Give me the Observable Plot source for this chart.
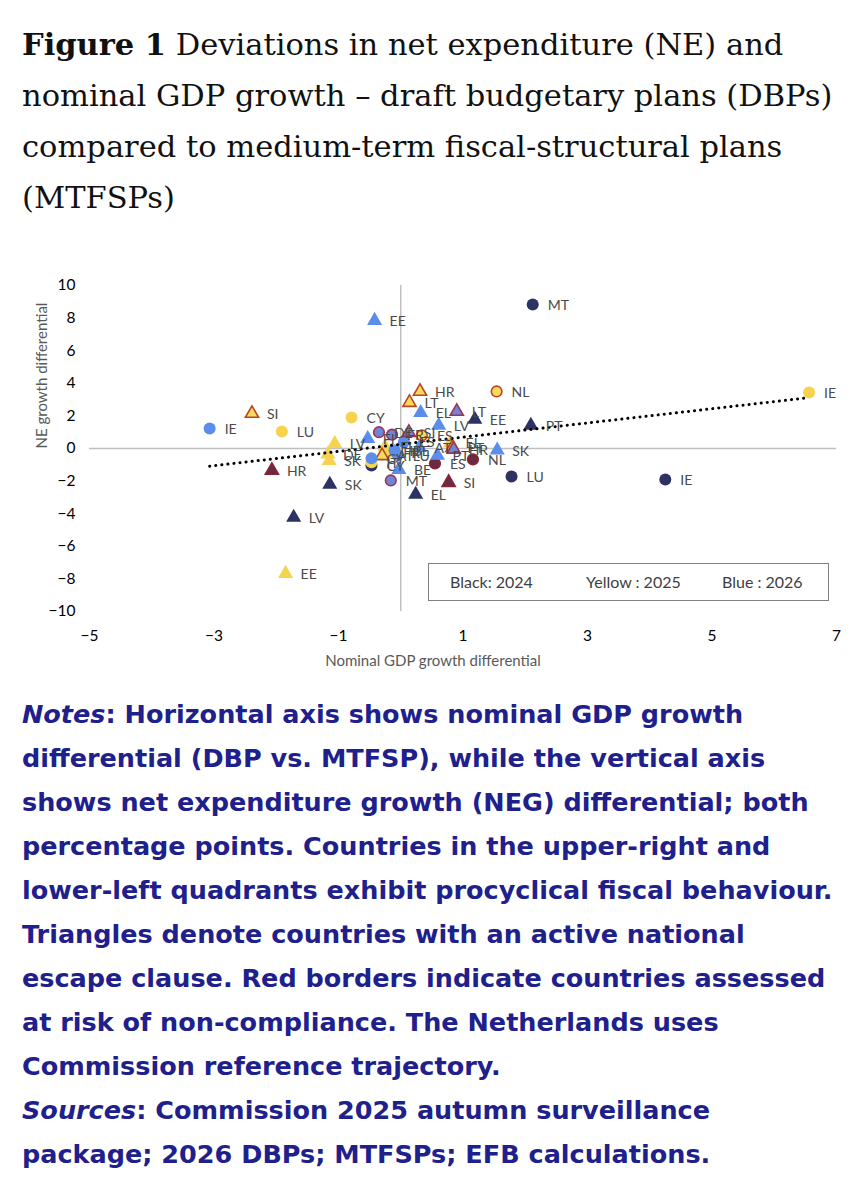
<!DOCTYPE html>
<html><head><meta charset="utf-8">
<script src="https://cdn.jsdelivr.net/npm/d3@7"></script>
<script src="https://cdn.jsdelivr.net/npm/@observablehq/plot@0.6"></script>
<style>
body{margin:0;background:#fff;width:855px;height:1200px;position:relative;overflow:hidden}
#title{position:absolute;left:22px;top:19px;font-family:"DejaVu Serif";font-size:30.5px;line-height:51px;color:#111;white-space:nowrap}
#chart{position:absolute;left:0;top:250px}
#legend{position:absolute;left:428px;top:563px;width:401px;height:38px;border:1.5px solid #808080;box-sizing:border-box;font-family:Lato;font-size:16px;color:#404040;background:#fff}
#legend span{position:absolute;top:8px}
#notes{position:absolute;left:22px;top:692px;font-family:"DejaVu Sans";font-weight:700;font-size:25.5px;line-height:44px;color:#20208c;white-space:nowrap}
</style></head>
<body>
<div id="title"><b>Figure 1</b> Deviations in net expenditure (NE) and<br>nominal GDP growth – draft budgetary plans (DBPs)<br>compared to medium-term fiscal-structural plans<br>(MTFSPs)</div>
<div id="chart"></div>
<div id="legend"><span style="left:21px">Black: 2024</span><span style="left:157px">Yellow : 2025</span><span style="left:293px">Blue : 2026</span></div>
<div id="notes"><i>Notes</i>: Horizontal axis shows nominal GDP growth<br>differential (DBP vs. MTFSP), while the vertical axis<br>shows net expenditure growth (NEG) differential; both<br>percentage points. Countries in the upper-right and<br>lower-left quadrants exhibit procyclical fiscal behaviour.<br>Triangles denote countries with an active national<br>escape clause. Red borders indicate countries assessed<br>at risk of non-compliance. The Netherlands uses<br>Commission reference trajectory.<br><i>Sources</i>: Commission 2025 autumn surveillance<br>package; 2026 DBPs; MTFSPs; EFB calculations.</div>
<script>
// ---- data (percentage points) ----
const years = ["2024", "2025", "2026"];
const seriesColors = ["#2e3263", "#f5d34f", "#5a8eea"];
const riskFill = ["#6b2a44", "#f7d860", "#6f86d8"];
const riskStroke = ["#8a2433", "#b9471f", "#9a3555"];

const labels2024 = ["MT","PT","EE","LU","IE","SK","LV","HR","EL","SI","ES","NL","CY"];
const gdp2024    = [2.12, 2.09, 1.19, 1.78, 4.25, -1.14, -1.72, -2.07, 0.24, 0.77, 0.55, 1.16, -0.47];
const ne2024     = [8.83, 1.41, 1.78, -1.72, -1.90, -2.20, -4.23, -1.35, -2.82, -2.09, -0.92, -0.67, -1.04];
const escape2024 = [0, 1, 1, 0, 0, 1, 1, 1, 1, 1, 0, 0, 0];
const risk2024   = [0, 0, 0, 0, 0, 0, 0, 1, 0, 1, 1, 1, 0];

const labels2025 = ["IE","NL","HR","LT","SI","CY","LU","EE","LV","DE","SK","ES","EL","AT","IT","FR","PT","BE","FI"];
const gdp2025    = [6.56, 1.54, 0.31, 0.14, -2.39, -0.79, -1.91, -1.85, -1.06, -1.17, -1.15, 0.34, 0.80, -0.30, -0.47, -0.20, 0.83, -0.05, -0.25];
const ne2025     = [3.44, 3.50, 3.50, 2.82, 2.15, 1.90, 1.04, -7.67, 0.30, -0.35, -0.75, 0.80, 0.35, -0.45, -0.85, -0.25, 0.06, -0.15, 0.10];
const escape2025 = [0, 0, 1, 1, 1, 0, 0, 1, 1, 1, 1, 0, 1, 1, 0, 0, 1, 1, 1];
const risk2025   = [0, 1, 1, 1, 1, 0, 0, 0, 0, 0, 0, 1, 0, 1, 0, 0, 1, 0, 0];

const labels2026 = ["EE","IE","EL","LT","LV","SK","PT","HR","BE","MT","FI","CY","DE","FR","IT","SI","AT","LU","ES"];
const gdp2026    = [-0.42, -3.07, 0.32, 0.90, 0.61, 1.55, 0.59, 0.85, -0.03, -0.16, -0.53, -0.47, -0.35, -0.14, -0.10, 0.13, 0.30, -0.05, 0.05];
const ne2026     = [7.85, 1.23, 2.20, 2.27, 1.41, -0.10, -0.43, -0.05, -1.29, -1.96, 0.60, -0.60, 1.00, 0.85, -0.10, 0.98, 0.06, -0.40, 0.40];
const escape2026 = [1, 0, 1, 1, 1, 1, 1, 1, 1, 0, 1, 0, 0, 0, 0, 1, 1, 0, 0];
const risk2026   = [0, 0, 0, 1, 0, 0, 0, 1, 0, 1, 0, 0, 1, 1, 0, 1, 0, 0, 0];

const xTicks = [-5, -3, -1, 1, 3, 5, 7];
const yTicks = [-10, -8, -6, -4, -2, 0, 2, 4, 6, 8, 10];

// ---- build table ----
function build(year, labels, xs, ys, esc, risk) {
  return labels.map((l, i) => ({year, label: l, x: xs[i], y: ys[i], tri: !!esc[i], risk: !!risk[i]}));
}
const series = [
  build("2024", labels2024, gdp2024, ne2024, escape2024, risk2024),
  build("2025", labels2025, gdp2025, ne2025, escape2025, risk2025),
  build("2026", labels2026, gdp2026, ne2026, escape2026, risk2026)
];
const all = series.flat();

const dotMarks = [];
series.forEach((s, i) => {
  const col = seriesColors[i];
  const plain = s.filter(d => !d.risk), risky = s.filter(d => d.risk);
  dotMarks.push(Plot.dot(plain.filter(d => !d.tri), {x: "x", y: "y", r: 6, symbol: "circle", fill: col}));
  dotMarks.push(Plot.dot(plain.filter(d => d.tri), {x: "x", y: "y", r: 5.6, symbol: "triangle", fill: col}));
  dotMarks.push(Plot.dot(risky.filter(d => !d.tri), {x: "x", y: "y", r: 5.3, symbol: "circle",
    fill: riskFill[i], stroke: riskStroke[i], strokeWidth: 1.6}));
  dotMarks.push(Plot.dot(risky.filter(d => d.tri), {x: "x", y: "y", r: 4.9, symbol: "triangle",
    fill: riskFill[i], stroke: riskStroke[i], strokeWidth: 1.6}));
});

const chart = Plot.plot({
  width: 855,
  height: 431,
  marginLeft: 89,
  marginRight: 19,
  marginTop: 35,
  marginBottom: 70,
  style: {fontFamily: "Lato", fontSize: "15.5px", color: "#000", background: "#fff", overflow: "visible"},
  x: {domain: [-5, 7], ticks: xTicks, tickSize: 0, tickPadding: 18, label: null},
  y: {domain: [-10, 10], ticks: yTicks, tickSize: 0, tickPadding: 14, label: null},
  marks: [
    Plot.ruleY([0], {stroke: "#bfbfbf", strokeWidth: 1.5}),
    Plot.ruleX([0], {stroke: "#bfbfbf", strokeWidth: 1.5}),
    ...dotMarks,
    Plot.linearRegressionY(all, {x: "x", y: "y", ci: 0, stroke: "#000", strokeWidth: 3,
      strokeDasharray: "0.1 6", strokeLinecap: "round"}),
    Plot.text(all, {x: "x", y: "y", text: "label", dx: 15, dy: 1, textAnchor: "start",
      fill: "#4a4a4a", fontSize: 14}),
    Plot.text(["Nominal GDP growth differential"], {frameAnchor: "bottom", lineAnchor: "middle", dy: 50, dx: -30,
      fill: "#595959", fontSize: 15}),
    Plot.text(["NE growth differential"], {frameAnchor: "left", rotate: -90, dx: -47,
      fill: "#595959", fontSize: 15})
  ]
});
document.getElementById("chart").appendChild(chart);
</script>
</body></html>
